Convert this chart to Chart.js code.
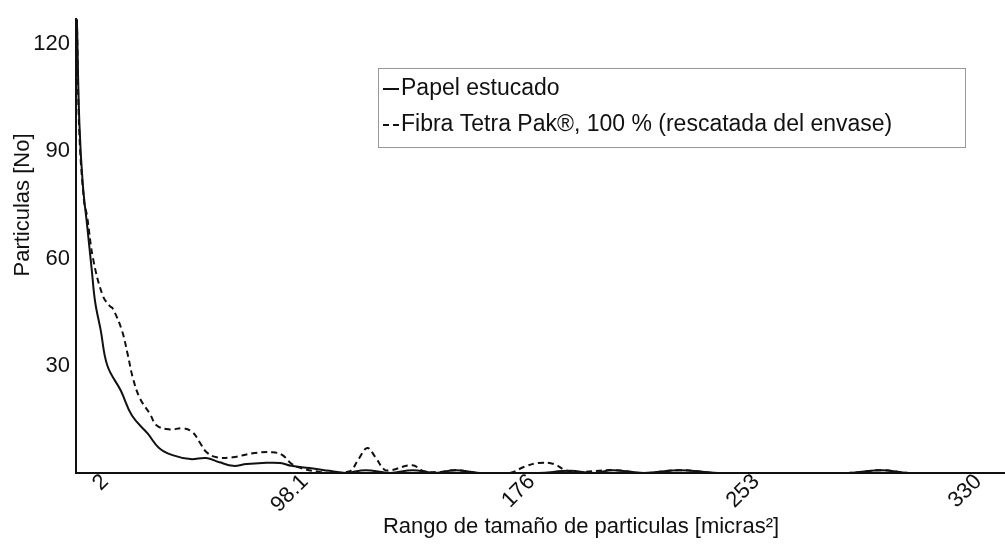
<!DOCTYPE html>
<html>
<head>
<meta charset="utf-8">
<script src="https://cdn.jsdelivr.net/npm/chart.js@4.4.1/dist/chart.umd.min.js"></script>
<style>
  html, body { margin: 0; padding: 0; background: #fff; overflow: hidden; }
  #wrap { width: 1086px; height: 548px; }
</style>
</head>
<body>
<div id="wrap"><canvas id="grafico"></canvas></div>
<script>
// posiciones del eje x en unidades de intervalo (bin)
const xTickPos = [1.3, 10.2, 20.3, 30.3, 40.2];
const xTickLabels = ["2", "98.1", "176", "253", "330"];
const yTickValues = [30, 60, 90, 120];

const papelX = [0.04, 0.15, 0.3, 0.5, 0.7, 0.85, 1.1, 1.4, 2.0, 2.5, 3.2, 3.7, 4.3, 5.1, 5.8, 6.4, 7.0, 7.6, 8.3, 9.1, 9.6, 10.4, 11.3, 12.0, 12.9, 14.0, 15.0, 16.0, 16.9, 18.0, 20.6, 22.0, 23.1, 23.9, 25.3, 26.9, 28.6, 34.4, 35.9, 37.1, 45];
const papelY = [127, 98, 81, 69, 57, 48, 40, 30, 23, 16, 11, 7, 5, 3.9, 4.2, 3, 2, 2.5, 2.8, 2.8, 2, 1.4, 0.6, 0, 0.8, 0, 0.8, 0, 0.8, 0, 0, 0.6, 0, 0.8, 0, 0.8, 0, 0, 0.8, 0, 0];

const tetraX = [0.04, 0.15, 0.36, 0.49, 0.76, 1.2, 1.51, 1.64, 2.04, 2.31, 2.53, 2.84, 3.29, 3.6, 4.18, 4.76, 5.2, 5.51, 5.82, 6.27, 6.98, 7.87, 8.76, 9.2, 9.6, 9.96, 10.84, 11.5, 12.2, 12.6, 12.98, 13.33, 13.73, 14.04, 14.98, 15.5, 16.2, 16.9, 18.0, 19.3, 20.0, 20.6, 21.3, 21.8, 22.4, 23.9, 25.3, 26.9, 28.6, 34.4, 35.9, 37.1, 45];
const tetraY = [127, 95, 76, 72, 60, 49.5, 46.7, 46, 40, 33, 26.7, 21, 16.6, 13.3, 12.2, 12.5, 11.4, 8.6, 5.8, 4.4, 4.4, 5.5, 5.8, 5, 2.6, 1.5, 0.3, 0, 0.5, 4, 7, 4.5, 1, 0.8, 2.2, 0.5, 0.3, 0.8, 0, 0, 1.8, 2.8, 2.5, 0.8, 0.3, 0.8, 0, 0.8, 0, 0, 0.8, 0, 0];

const FONT = "'Liberation Sans', Arial, sans-serif";
const INK = "#111";

function puntos(xs, ys) {
    return xs.map((x, i) => ({ x: x, y: ys[i] }));
}

// titulos de ejes y leyenda dibujados a mano
const extras = {
    id: "extras",
    afterDraw(chart) {
        const ctx = chart.ctx;
        const area = chart.chartArea;
        ctx.save();
        ctx.fillStyle = INK;
        ctx.font = "22px " + FONT;
        ctx.textAlign = "center";
        ctx.textBaseline = "middle";
        ctx.fillText("Rango de tamaño de particulas [micras²]", (area.left + area.right) / 2, 527);

        ctx.save();
        ctx.translate(23, 205);
        ctx.rotate(-Math.PI / 2);
        ctx.fillText("Particulas [No]", 0, 0);
        ctx.restore();

        // leyenda
        ctx.strokeStyle = "#999";
        ctx.lineWidth = 1;
        ctx.strokeRect(378.5, 68.5, 587, 79);
        ctx.textAlign = "left";
        ctx.font = "23px " + FONT;
        const filas = [89, 125];
        chart.data.datasets.forEach((ds, i) => {
            const y = filas[i];
            ctx.strokeStyle = INK;
            ctx.lineWidth = 2;
            ctx.setLineDash(ds.borderDash || []);
            ctx.beginPath();
            ctx.moveTo(383, y);
            ctx.lineTo(399, y);
            ctx.stroke();
            ctx.setLineDash([]);
            ctx.fillText(ds.label, 401, y);
        });
        ctx.restore();
    }
};

const ctx = document.getElementById("grafico").getContext("2d");
new Chart(ctx, {
    type: "line",
    data: {
        datasets: [
            {
                label: "Papel estucado",
                data: puntos(papelX, papelY),
                borderColor: INK,
                borderWidth: 2,
                pointRadius: 0,
                fill: false,
                tension: 0.4
            },
            {
                label: "Fibra Tetra Pak®, 100 % (rescatada del envase)",
                data: puntos(tetraX, tetraY),
                borderColor: INK,
                borderWidth: 2,
                borderDash: [6, 4],
                pointRadius: 0,
                fill: false,
                tension: 0.4
            }
        ]
    },
    options: {
        responsive: true,
        maintainAspectRatio: false,
        animation: false,
        layout: { padding: { top: 17, right: 0, left: 0, bottom: 0 } },
        plugins: {
            legend: { display: false },
            tooltip: { enabled: false }
        },
        scales: {
            x: {
                type: "linear",
                min: 0,
                max: 45,
                afterFit: (scale) => { scale.height = 75; },
                afterBuildTicks: (scale) => {
                    scale.ticks = xTickPos.map(v => ({ value: v }));
                },
                grid: { display: false, drawTicks: false },
                border: { display: true, color: INK, width: 2 },
                ticks: {
                    autoSkip: false,
                    minRotation: 45,
                    maxRotation: 45,
                    padding: -4,
                    color: INK,
                    font: { family: FONT, size: 22 },
                    callback: (v, i) => xTickLabels[i]
                }
            },
            y: {
                min: 0,
                max: 127,
                afterFit: (scale) => { scale.width = 76; },
                afterBuildTicks: (scale) => {
                    scale.ticks = yTickValues.map(v => ({ value: v }));
                },
                grid: { display: false, drawTicks: false },
                border: { display: true, color: INK, width: 2 },
                ticks: {
                    padding: 6,
                    color: INK,
                    font: { family: FONT, size: 22 }
                }
            }
        }
    },
    plugins: [extras]
});
</script>
</body>
</html>
